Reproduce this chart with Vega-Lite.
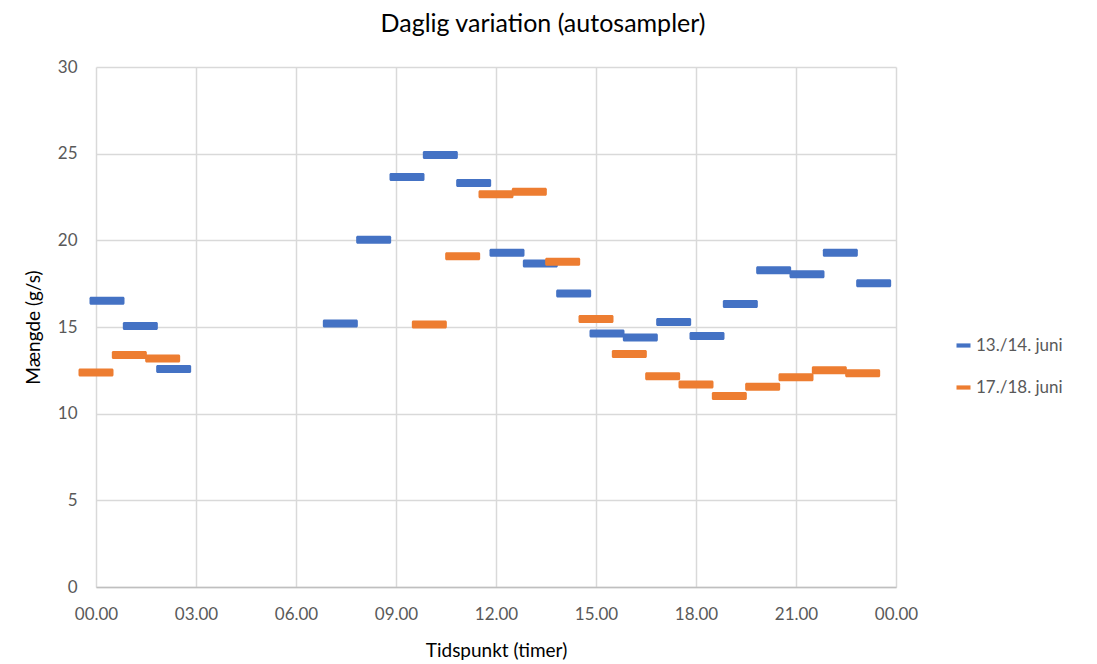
{
  "$schema": "https://vega.github.io/schema/vega-lite/v6.json",
  "autosize": "none",
  "width": 800,
  "height": 520,
  "padding": {"left": 96, "top": 67, "right": 201, "bottom": 77},
  "background": "white",
  "title": {
    "text": "Daglig variation (autosampler)",
    "font": "Lato",
    "fontSize": 25,
    "fontWeight": "normal",
    "color": "#000000",
    "anchor": "middle",
    "dx": 47,
    "offset": 21
  },
  "data": {
    "values": [
      {"t": 0.33, "v": 16.52, "s": "13./14. juni"},
      {"t": 1.33, "v": 15.06, "s": "13./14. juni"},
      {"t": 2.33, "v": 12.58, "s": "13./14. juni"},
      {"t": 7.33, "v": 15.2, "s": "13./14. juni"},
      {"t": 8.33, "v": 20.04, "s": "13./14. juni"},
      {"t": 9.33, "v": 23.66, "s": "13./14. juni"},
      {"t": 10.33, "v": 24.93, "s": "13./14. juni"},
      {"t": 11.33, "v": 23.31, "s": "13./14. juni"},
      {"t": 12.33, "v": 19.29, "s": "13./14. juni"},
      {"t": 13.33, "v": 18.66, "s": "13./14. juni"},
      {"t": 14.33, "v": 16.93, "s": "13./14. juni"},
      {"t": 15.33, "v": 14.62, "s": "13./14. juni"},
      {"t": 16.33, "v": 14.39, "s": "13./14. juni"},
      {"t": 17.33, "v": 15.29, "s": "13./14. juni"},
      {"t": 18.33, "v": 14.48, "s": "13./14. juni"},
      {"t": 19.33, "v": 16.33, "s": "13./14. juni"},
      {"t": 20.33, "v": 18.27, "s": "13./14. juni"},
      {"t": 21.33, "v": 18.04, "s": "13./14. juni"},
      {"t": 22.33, "v": 19.29, "s": "13./14. juni"},
      {"t": 23.33, "v": 17.52, "s": "13./14. juni"},
      {"t": 0, "v": 12.37, "s": "17./18. juni"},
      {"t": 1, "v": 13.39, "s": "17./18. juni"},
      {"t": 2, "v": 13.18, "s": "17./18. juni"},
      {"t": 10, "v": 15.14, "s": "17./18. juni"},
      {"t": 11, "v": 19.08, "s": "17./18. juni"},
      {"t": 12, "v": 22.66, "s": "17./18. juni"},
      {"t": 13, "v": 22.81, "s": "17./18. juni"},
      {"t": 14, "v": 18.77, "s": "17./18. juni"},
      {"t": 15, "v": 15.46, "s": "17./18. juni"},
      {"t": 16, "v": 13.44, "s": "17./18. juni"},
      {"t": 17, "v": 12.16, "s": "17./18. juni"},
      {"t": 18, "v": 11.68, "s": "17./18. juni"},
      {"t": 19, "v": 11.02, "s": "17./18. juni"},
      {"t": 20, "v": 11.56, "s": "17./18. juni"},
      {"t": 21, "v": 12.1, "s": "17./18. juni"},
      {"t": 22, "v": 12.5, "s": "17./18. juni"},
      {"t": 23, "v": 12.33, "s": "17./18. juni"}
    ]
  },
  "mark": {
    "type": "tick",
    "orient": "horizontal",
    "size": 35,
    "thickness": 8,
    "cornerRadius": 1.5,
    "opacity": 1,
    "clip": false
  },
  "encoding": {
    "x": {
      "field": "t",
      "type": "quantitative",
      "scale": {"domain": [0, 24], "nice": false, "zero": false},
      "axis": {
        "values": [0, 3, 6, 9, 12, 15, 18, 21, 24],
        "labelExpr": "format(datum.value % 24, '02d') + '.00'",
        "title": "Tidspunkt (timer)",
        "titleFont": "Lato",
        "titleFontSize": 19,
        "titleFontWeight": "normal",
        "titleColor": "#000000",
        "titleX": 400,
        "titleY": 63,
        "titleAlign": "center",
        "titleBaseline": "middle",
        "labelFont": "Lato",
        "labelFontSize": 17,
        "labelColor": "#595959",
        "labelPadding": 19,
        "labelFlush": false,
        "labelOverlap": false,
        "ticks": false,
        "domainColor": "#bfbfbf",
        "domainWidth": 1.5,
        "grid": true,
        "gridColor": "#d9d9d9",
        "gridWidth": 1.5
      }
    },
    "y": {
      "field": "v",
      "type": "quantitative",
      "scale": {"domain": [0, 30], "nice": false},
      "axis": {
        "values": [0, 5, 10, 15, 20, 25, 30],
        "title": "Mængde (g/s)",
        "titleFont": "Lato",
        "titleFontSize": 19,
        "titleFontWeight": "normal",
        "titleColor": "#000000",
        "titleAngle": -90,
        "titleX": -63,
        "titleY": 260,
        "titleAlign": "center",
        "titleBaseline": "middle",
        "labelFont": "Lato",
        "labelFontSize": 17,
        "labelColor": "#595959",
        "labelPadding": 19,
        "ticks": false,
        "domain": false,
        "grid": true,
        "gridColor": "#d9d9d9",
        "gridWidth": 1.5
      }
    },
    "color": {
      "field": "s",
      "type": "nominal",
      "scale": {"domain": ["13./14. juni", "17./18. juni"], "range": ["#4472C4", "#ED7D31"]},
      "legend": {
        "title": null,
        "orient": "none",
        "legendX": 859,
        "legendY": 270,
        "symbolType": "M-1,-0.3H1V0.3H-1Z",
        "symbolSize": 196,
        "symbolStrokeWidth": 0,
        "symbolOpacity": 1,
        "labelFont": "Lato",
        "labelFontSize": 17,
        "labelColor": "#595959",
        "labelOffset": 4,
        "rowPadding": 24
      }
    }
  },
  "config": {
    "view": {"stroke": null}
  }
}
